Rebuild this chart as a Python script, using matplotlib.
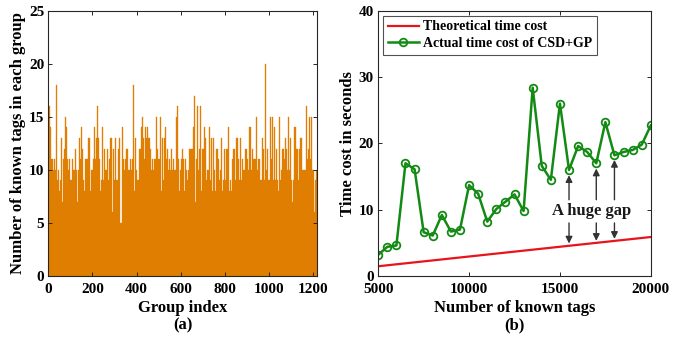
import numpy as np
import matplotlib
matplotlib.use('Agg')
import matplotlib.pyplot as plt

plt.rcParams['font.family'] = 'Liberation Serif'
plt.rcParams['font.weight'] = 'bold'
plt.rcParams['axes.labelweight'] = 'bold'

# ---- (a) known tags per group, one value per ~4.5 groups
tags_per_group = [
    11, 16, 14, 11, 11, 10, 11, 10, 18, 9, 10, 8, 9, 13, 7, 11, 12, 15, 14, 11,
    10, 11, 9, 9, 11, 10, 10, 12, 10, 7, 10, 13, 11, 14, 12, 9, 8, 11, 11, 11,
    13, 13, 8, 10, 10, 11, 14, 11, 13, 16, 13, 11, 8, 9,
    14, 9, 12, 10, 10, 12, 9, 11, 13, 13, 6, 12, 9, 13, 9, 9, 12, 13, 5, 14,
    11, 10, 11, 12, 12, 10, 10, 11, 10, 11, 18, 8, 13, 10, 9, 9, 12, 12, 14, 15,
    13, 11, 14, 13, 14, 13, 13, 12, 10, 11, 10, 11, 11, 15,
    12, 11, 11, 15, 8, 13, 9, 13, 14, 11, 12, 10, 11, 10, 12, 10, 11, 10, 10, 15,
    16, 11, 8, 10, 11, 12, 11, 8, 11, 10, 9, 10, 12, 12, 12, 12, 14, 17, 7, 11,
    16, 10, 12, 16, 8, 12, 12, 14, 13, 9, 10, 10, 14, 9,
    13, 8, 13, 10, 8, 12, 12, 11, 9, 10, 13, 8, 9, 12, 9, 12, 12, 14, 8, 9,
    8, 11, 12, 12, 9, 13, 13, 11, 9, 13, 9, 11, 10, 10, 12, 12, 11, 10, 14, 14,
    10, 12, 11, 11, 11, 15, 10, 11, 11, 9, 9, 13, 12, 9,
    20, 10, 12, 9, 9, 15, 11, 15, 9, 14, 9, 12, 9, 8, 15, 9, 10, 12, 12, 11,
    13, 12, 10, 15, 10, 13, 9, 7, 9, 14, 14, 12, 12, 9, 12, 13, 13, 10, 10, 10,
    10, 16, 11, 12, 15, 11, 15, 10, 10, 6, 9, 10,
]
n_groups = 1217

# ---- (b) time cost
known_tags = list(range(5000, 20001, 500))
actual_cost = [3.2, 4.4, 4.6, 17.0, 16.1, 6.6, 6.1, 9.2, 6.7, 7.0,
               13.7, 12.4, 8.2, 10.1, 11.2, 12.3, 9.8, 28.4, 16.6, 14.5,
               26.0, 16.0, 19.6, 18.7, 17.0, 23.2, 18.2, 18.7, 19.0, 19.8, 22.7]
theory_x = [5000, 20000]
theory_cost = [1.47, 5.88]

gap_x = [15500, 17000, 18000]
gap_up_head = [15.2, 16.2, 17.5]
gap_down_head = [4.9, 5.3, 5.6]

fig = plt.figure(figsize=(6.73, 3.41), dpi=100)
frame_col = '#262626'
bar_col = '#DF7E00'


def style_axes(ax):
    for s in ax.spines.values():
        s.set_color(frame_col)
        s.set_linewidth(0.8)
    ax.tick_params(direction='in', top=True, right=True, length=3,
                   width=0.7, color=frame_col, labelsize=11)
    ax.tick_params(axis='x', pad=5)
    ax.tick_params(axis='y', pad=3)


# left panel
ax1 = fig.add_axes([0.0718, 0.1906, 0.3992, 0.778])
step = n_groups / len(tags_per_group)
pos = (np.arange(len(tags_per_group)) + 0.5) * step
ax1.bar(pos, tags_per_group, width=step, color=bar_col, edgecolor=bar_col,
        linewidth=0.25)
ax1.set_xlim(0, n_groups)
ax1.set_ylim(0, 25)
ax1.set_xticks(range(0, 1201, 200))
ax1.set_yticks(range(0, 26, 5))
ax1.set_xlabel('Group index\n(a)', fontsize=12, linespacing=1.1, labelpad=3)
ax1.set_ylabel('Number of known tags in each group', fontsize=12, labelpad=2)
style_axes(ax1)

# right panel
ax2 = fig.add_axes([0.562, 0.1906, 0.405, 0.778])
ax2.plot(theory_x, theory_cost, color='#E8141C', lw=1.6, label='Theoretical time cost')
ax2.plot(known_tags, actual_cost, color='#138A13', lw=1.8, marker='o', ms=5.5,
         mfc='none', mew=1.3, label='Actual time cost of CSD+GP')
ax2.set_xlim(5000, 20000)
ax2.set_ylim(0, 40)
ax2.set_xticks(range(5000, 20001, 5000))
ax2.set_yticks(range(0, 41, 10))
ax2.set_xlabel('Number of known tags\n(b)', fontsize=12, linespacing=1.1, labelpad=3)
ax2.set_ylabel('Time cost in seconds', fontsize=12, labelpad=2)
style_axes(ax2)

leg = ax2.legend(loc='upper left', fontsize=10, frameon=True, fancybox=False,
                 handlelength=2.2, handletextpad=0.35, borderpad=0.35,
                 labelspacing=0.25, borderaxespad=0.35)
leg.get_frame().set_edgecolor(frame_col)
leg.get_frame().set_linewidth(0.8)

arrow_kw = dict(arrowstyle='-|>', color='#333333', lw=1.0, mutation_scale=10,
                shrinkA=0, shrinkB=0)
for x, up, down in zip(gap_x, gap_up_head, gap_down_head):
    ax2.annotate('', xy=(x, up), xytext=(x, 11.5), arrowprops=arrow_kw)
    ax2.annotate('', xy=(x, down), xytext=(x, 8.0), arrowprops=arrow_kw)
ax2.text(16750, 9.85, 'A huge gap', fontsize=12, fontweight='bold',
         ha='center', va='center', color='#1a1a1a')

fig.savefig('out.png', dpi=100)
